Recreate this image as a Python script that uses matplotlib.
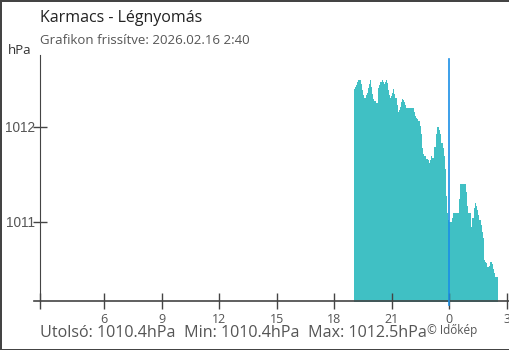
import matplotlib
matplotlib.use("Agg")
import matplotlib.pyplot as plt

# pressure readings (local time, hPa)
times = ["19:01", "19:05", "19:08", "19:11", "19:14", "19:20", "19:24", "19:27", "19:30", "19:33",
         "19:37", "19:41", "19:44", "19:47", "19:50", "19:53", "19:56", "19:59", "20:02", "20:06",
         "20:10", "20:14", "20:16", "20:19", "20:22", "20:25", "20:29", "20:32", "20:35", "20:38",
         "20:42", "20:45", "20:49", "20:53", "20:56", "20:59", "21:02", "21:06", "21:09", "21:12",
         "21:16", "21:19", "21:22", "21:25", "21:28", "21:32", "21:35", "21:38", "21:42", "21:45",
         "21:48", "21:58", "22:09", "22:11", "22:14", "22:17", "22:21", "22:24", "22:28", "22:31",
         "22:34", "22:37", "22:40", "22:46", "22:49", "22:53", "22:56", "22:59", "23:02", "23:05",
         "23:08", "23:11", "23:14", "23:18", "23:21", "23:27", "23:30", "23:33", "23:36", "23:40",
         "23:43", "23:46", "23:49", "23:52", "23:55", "23:58", "00:01", "00:05", "00:08", "00:11",
         "00:14", "00:30", "00:33", "00:36", "00:52", "00:55", "00:58", "01:01", "01:10", "01:13",
         "01:17", "01:20", "01:23", "01:26", "01:29", "01:32", "01:35", "01:39", "01:42", "01:45",
         "01:48", "01:51", "01:54", "01:57", "02:00", "02:04", "02:07", "02:10", "02:13", "02:16",
         "02:19", "02:22", "02:25", "02:29", "02:32"]
pressure = [1012.40, 1012.42, 1012.44, 1012.47, 1012.49, 1012.49, 1012.45, 1012.39, 1012.33, 1012.30,
            1012.30, 1012.33, 1012.36, 1012.41, 1012.45, 1012.49, 1012.42, 1012.34, 1012.29, 1012.27,
            1012.25, 1012.25, 1012.35, 1012.41, 1012.44, 1012.47, 1012.49, 1012.47, 1012.45, 1012.47,
            1012.49, 1012.46, 1012.39, 1012.33, 1012.30, 1012.32, 1012.36, 1012.40, 1012.34, 1012.30,
            1012.23, 1012.16, 1012.18, 1012.21, 1012.26, 1012.29, 1012.28, 1012.26, 1012.23, 1012.20,
            1012.20, 1012.20, 1012.20, 1012.15, 1012.11, 1012.09, 1012.08, 1012.06, 1012.01, 1011.92,
            1011.78, 1011.71, 1011.69, 1011.69, 1011.66, 1011.65, 1011.62, 1011.65, 1011.68, 1011.69,
            1011.67, 1011.67, 1011.79, 1011.92, 1012.00, 1012.00, 1011.97, 1011.92, 1011.83, 1011.78,
            1011.69, 1011.55, 1011.44, 1011.27, 1011.09, 1011.02, 1011.00, 1011.00, 1011.04, 1011.09,
            1011.09, 1011.24, 1011.40, 1011.40, 1011.31, 1011.17, 1011.09, 1011.09, 1010.94, 1011.04,
            1011.14, 1011.20, 1011.19, 1011.16, 1011.12, 1011.07, 1011.02, 1010.96, 1010.89, 1010.83,
            1010.69, 1010.60, 1010.58, 1010.56, 1010.52, 1010.53, 1010.58, 1010.60, 1010.58, 1010.55,
            1010.50, 1010.46, 1010.42, 1010.42, 1010.42]

x_ticks = [6, 9, 12, 15, 18, 21, 24, 27]
x_labels = ["6", "9", "12", "15", "18", "21", "0", "3"]
y_ticks = [1011, 1012]

title = "Karmacs - Légnyomás"
subtitle = "Grafikon frissítve: 2026.02.16 2:40"
footer = "Utolsó: 1010.4hPa  Min: 1010.4hPa  Max: 1012.5hPa"


def to_hours(t):
    h, m = map(int, t.split(":"))
    h = h + m / 60
    return h + 24 if h < 12 else h


hours = [to_hours(t) for t in times]

FONT = "Open Sans"
AX_COL = "#444444"
TXT_COL = "#555555"

fig = plt.figure(figsize=(5.1, 3.5), dpi=100, linewidth=2, edgecolor=AX_COL)
ax = fig.add_axes([40.5 / 510, 49.3 / 350, 466 / 510, 245.7 / 350])

ax.fill_between(hours, pressure, 1010.0, step="post", color="#40c0c4", linewidth=0)
# midnight marker
ax.plot([24, 24], [1010.12, 1012.71], color="#1a8fe6", linewidth=1.2, clip_on=False, zorder=3)

ax.set_xlim(2.67, 27)
ax.set_ylim(1010.168, 1012.755)

for s in ["top", "right"]:
    ax.spines[s].set_visible(False)
ax.spines["left"].set_color(AX_COL)
ax.spines["bottom"].set_visible(False)
ax.plot([-0.014, 1.005], [0, 0], transform=ax.transAxes, color=AX_COL, lw=1.2, clip_on=False)

ax.set_xticks([2.67] + x_ticks)
ax.set_xticklabels([""] + x_labels, fontfamily=FONT, fontsize=9, color=TXT_COL)
ax.set_yticks(y_ticks)
ax.set_yticklabels([str(v) for v in y_ticks], fontfamily="Liberation Sans", fontsize=9.8, color=TXT_COL)
ax.tick_params(axis="x", direction="inout", length=11, width=1, color=AX_COL, pad=3)
ax.tick_params(axis="y", direction="inout", length=10, width=1, color=AX_COL, pad=-1)

fig.text(40 / 510, 1 - 18 / 350, title, fontfamily=FONT, fontsize=11.5, color="#222222", va="center")
fig.text(40 / 510, 1 - 40 / 350, subtitle, fontfamily=FONT, fontsize=9.5, color=TXT_COL, va="center")
fig.text(8 / 510, 1 - 50 / 350, "hPa", fontfamily=FONT, fontsize=9.5, color="#333333", va="center")
fig.text(40 / 510, 1 - 333 / 350, footer, fontfamily=FONT, fontsize=11.6, color=TXT_COL, va="center")
fig.text(427 / 510, 1 - 330.5 / 350, "© Időkép", fontfamily=FONT, fontsize=8.5, color=TXT_COL, va="center")

fig.savefig("out.png", dpi=100)
